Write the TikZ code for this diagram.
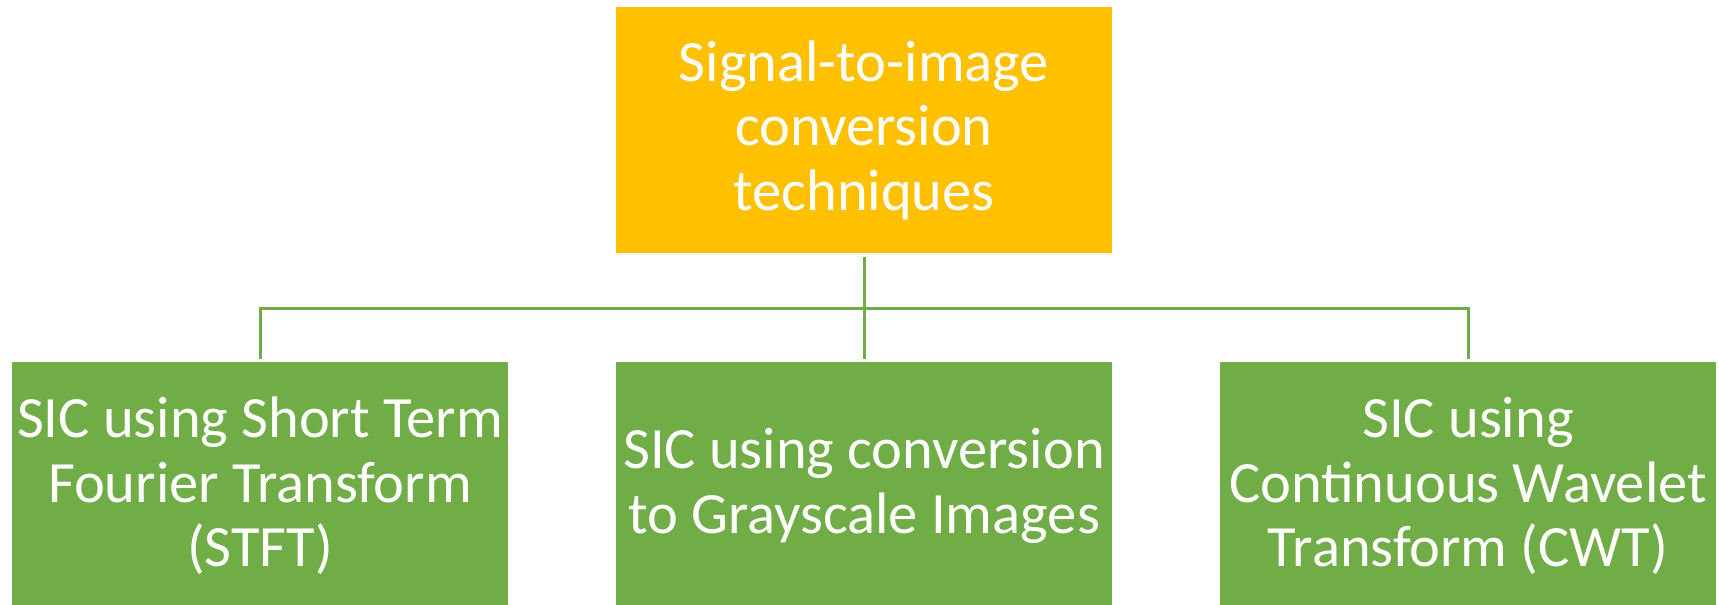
\documentclass[tikz,border=0pt]{standalone}
\usepackage{fontspec}
\setmainfont{Carlito}
\definecolor{gold}{HTML}{FFC000}
\definecolor{leaf}{HTML}{70AD47}
\begin{document}
\begin{tikzpicture}[x=1bp,y=-1bp,
  boxstyle/.style={rectangle, inner sep=0pt, minimum width=496bp, minimum height=248bp,
    text=white, align=center,
    font=\fontsize{58.5bp}{64.5bp}\selectfont},
  topbox/.style={boxstyle, fill=gold, minimum height=246bp},
  leafbox/.style={boxstyle, fill=leaf},
  link/.style={draw=leaf, line width=3bp}]
\useasboundingbox (0,0) rectangle (1719,605);
\begin{scope}
\clip (0,0) rectangle (1719,605);
\node[topbox] (root) at (864,130) {Signal-to-image\\conversion\\techniques};
\node[leafbox] (stft) at (260,486) {SIC using Short Term\\Fourier Transform\\(STFT)};
\node[leafbox] (gray) at (864,486) {SIC using conversion\\to Grayscale Images};
\node[leafbox] (cwt) at (1468,486) {SIC using\\Continuous Wavelet\\Transform (CWT)};
\coordinate (bar) at (864,308);
\draw[link] ([yshift=-4bp]root.south) -- (bar);
\draw[link] (bar) -| ([yshift=3bp]stft.north);
\draw[link] (bar) -| ([yshift=3bp]cwt.north);
\draw[link] (bar) -- ([yshift=3bp]gray.north);
\end{scope}
\end{tikzpicture}
\end{document}
